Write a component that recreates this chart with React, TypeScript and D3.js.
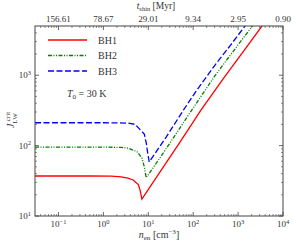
import React from "react";
import * as d3 from "d3";

const W = 296, H = 249;
const M = { left: 35, right: 283, top: 26, bottom: 216 };

const xDomain = [0.03, 1e4];
const yDomain = [10, 5000];
const xMajor = [0.1, 1, 10, 100, 1000, 10000];
const xMajorLabels = ["−1", "0", "1", "2", "3", "4"];
const topLabels = ["156.61", "78.67", "29.01", "9.34", "2.95", "0.90"];
const yMajor = [10, 100, 1000];
const yMajorLabels = ["1", "2", "3"];

const bh1N = [0.03, 0.5, 1.5, 2.5, 3.5, 4.6, 6.0, 6.6, 7.2, 15, 50, 150, 500, 1500, 3400, 6000];
const bh1J = [37, 37, 36.8, 36, 34.5, 32.5, 28, 23, 17.4, 35, 110, 321, 944, 2450, 5000, 8100];

const bh2N = [0.03, 1, 2.5, 3.6, 5.6, 7.2, 8.15, 9.0, 20, 93.5, 300, 1000, 2080, 4000];
const bh2J = [95, 95, 94.5, 92, 82, 67, 50, 35, 73, 321, 970, 2700, 5000, 8700];

const bh3N = [0.03, 1, 3.6, 5.13, 6.64, 8.15, 9.0, 9.7, 10.5, 25, 61, 117, 300, 700, 1430, 3000];
const bh3J = [211, 211, 209, 200, 167, 146, 109, 78.5, 58.5, 132, 321, 597, 1370, 2740, 5000, 8900];

const series = [
  { name: "BH1", n: bh1N, j: bh1J, color: "#ff0000", dash: "" },
  { name: "BH2", n: bh2N, j: bh2J, color: "#008000", dash: "4,1.5,1,1.5,1,1.5" },
  { name: "BH3", n: bh3N, j: bh3J, color: "#0000ff", dash: "6,2.5" },
];

const FONT = "'Liberation Serif', 'DejaVu Serif', serif";
const TXT = "#333";

export default function App() {
  const x = d3.scaleLog().domain(xDomain).range([M.left, M.right]);
  const y = d3.scaleLog().domain(yDomain).range([M.bottom, M.top]);

  const xMinor: number[] = [];
  for (let e = -2; e <= 3; e++) for (let k = 2; k <= 9; k++) {
    const v = k * Math.pow(10, e);
    if (v > xDomain[0] && v < xDomain[1]) xMinor.push(v);
  }
  const yMinor: number[] = [];
  for (let e = 1; e <= 3; e++) for (let k = 2; k <= 9; k++) {
    const v = k * Math.pow(10, e);
    if (v > yDomain[0] && v < yDomain[1]) yMinor.push(v);
  }

  const line = d3.line<[number, number]>().x(d => x(d[0])).y(d => y(d[1])).curve(d3.curveLinear);
  const axisColor = "#444";

  return (
    <svg width={W} height={H} style={{ position: "absolute", left: 0, top: 0, background: "#fff" }} fontFamily={FONT}>
      <defs>
        <clipPath id="plot"><rect x={M.left} y={M.top} width={M.right - M.left} height={M.bottom - M.top} /></clipPath>
      </defs>
      <g clipPath="url(#plot)">
        {series.map(s => (
          <path key={s.name} d={line(s.n.map((v, i) => [v, s.j[i]]) as [number, number][]) || ""}
            fill="none" stroke={s.color} strokeWidth={1.3} strokeDasharray={s.dash} />
        ))}
      </g>
      <rect x={M.left} y={M.top} width={M.right - M.left} height={M.bottom - M.top} fill="none" stroke={axisColor} strokeWidth={1} />
      {xMajor.map(v => (
        <g key={"xM" + v}>
          <line x1={x(v)} x2={x(v)} y1={M.bottom} y2={M.bottom - 4} stroke={axisColor} strokeWidth={0.8} />
          <line x1={x(v)} x2={x(v)} y1={M.top} y2={M.top + 4} stroke={axisColor} strokeWidth={0.8} />
        </g>
      ))}
      {xMinor.map(v => (
        <g key={"xm" + v}>
          <line x1={x(v)} x2={x(v)} y1={M.bottom} y2={M.bottom - 2} stroke={axisColor} strokeWidth={0.6} />
          <line x1={x(v)} x2={x(v)} y1={M.top} y2={M.top + 2} stroke={axisColor} strokeWidth={0.6} />
        </g>
      ))}
      {yMajor.map(v => (
        <g key={"yM" + v}>
          <line x1={M.left} x2={M.left + 4} y1={y(v)} y2={y(v)} stroke={axisColor} strokeWidth={0.8} />
          <line x1={M.right} x2={M.right - 4} y1={y(v)} y2={y(v)} stroke={axisColor} strokeWidth={0.8} />
        </g>
      ))}
      {yMinor.map(v => (
        <g key={"ym" + v}>
          <line x1={M.left} x2={M.left + 2} y1={y(v)} y2={y(v)} stroke={axisColor} strokeWidth={0.6} />
          <line x1={M.right} x2={M.right - 2} y1={y(v)} y2={y(v)} stroke={axisColor} strokeWidth={0.6} />
        </g>
      ))}
      {xMajor.map((v, i) => (
        <text key={"xl" + v} x={x(v)} y={227} textAnchor="middle" fontSize={9} fill={TXT}>
          10<tspan dy={-3.5} fontSize={6.5}>{xMajorLabels[i]}</tspan>
        </text>
      ))}
      {topLabels.map((t, i) => (
        <text key={"tl" + i} x={x(xMajor[i])} y={22} textAnchor="middle" fontSize={9} fill={TXT}>{t}</text>
      ))}
      {yMajor.map((v, i) => (
        <text key={"yl" + v} x={31} y={y(v) + 3} textAnchor="end" fontSize={9} fill={TXT}>
          10<tspan dy={-3.5} fontSize={6.5}>{yMajorLabels[i]}</tspan>
        </text>
      ))}
      <text x={159} y={238} textAnchor="middle" fontSize={10} fill={TXT}>
        <tspan fontStyle="italic">n</tspan><tspan dy={2} fontSize={7}>en</tspan><tspan dy={-2}> [cm</tspan><tspan dy={-4} fontSize={7}>−3</tspan><tspan dy={4}>]</tspan>
      </text>
      <text x={156} y={9} textAnchor="middle" fontSize={9.5} fill={TXT}>
        <tspan fontStyle="italic">t</tspan><tspan dy={1.5} fontSize={6.5}>shin</tspan><tspan dy={-1.5}> [Myr]</tspan>
      </text>
      <text transform={`translate(14,${120}) rotate(-90)`} textAnchor="middle" fontSize={10} fill={TXT}>
        <tspan fontStyle="italic">J</tspan><tspan dy={2.5} fontSize={7}>LW</tspan><tspan dx={-8} dy={-7} fontSize={7}>crit</tspan>
      </text>
      {series.map((s, i) => {
        const ly = 40 + i * 15.5;
        return (
          <g key={"lg" + s.name}>
            <line x1={48} x2={87} y1={ly} y2={ly} stroke={s.color} strokeWidth={1.3} strokeDasharray={s.dash} />
            <text x={98} y={ly + 3.5} fontSize={10} fill={TXT}>{s.name}</text>
          </g>
        );
      })}
      <text x={67} y={97} fontSize={10} fill={TXT}>
        <tspan fontStyle="italic">T</tspan><tspan dy={2} fontSize={7}>0</tspan><tspan dy={-2}> = 30 K</tspan>
      </text>
    </svg>
  );
}
